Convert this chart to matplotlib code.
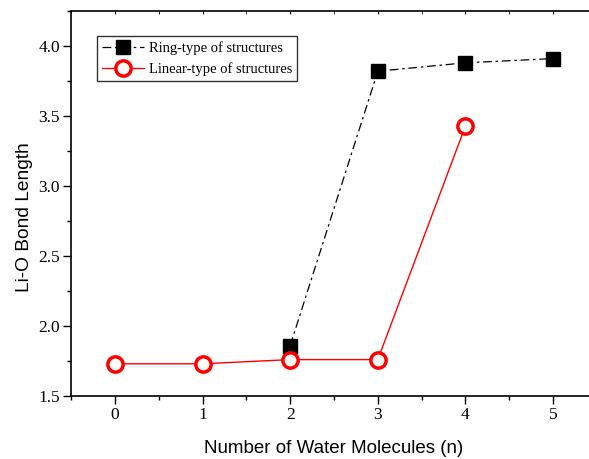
import matplotlib.pyplot as plt
from matplotlib.ticker import MultipleLocator

# Li-O bond length vs number of water molecules
n_ring = [2, 3, 4, 5]
ring_len = [1.86, 3.82, 3.88, 3.91]

n_linear = [0, 1, 2, 3, 4]
linear_len = [1.73, 1.73, 1.76, 1.76, 3.43]

fig = plt.figure(figsize=(5.89, 4.59), dpi=100)
ax = fig.add_axes([71 / 589, 63 / 459, 526 / 589, 385 / 459])

ax.plot(n_ring, ring_len, color="black", linestyle=(0, (7, 3, 2, 3)), linewidth=0.9,
        marker="s", markersize=10, markerfacecolor="black", markeredgecolor="black",
        label="Ring-type of structures")
ax.plot(n_linear, linear_len, color="red", linestyle="-", linewidth=1.0,
        marker="o", markersize=11, markerfacecolor="white", markeredgecolor="red",
        markeredgewidth=2.5, label="Linear-type of structures")

ax.set_xlim(-0.5, 5.5)
ax.set_ylim(1.5, 4.25)
ax.xaxis.set_major_locator(MultipleLocator(1))
ax.xaxis.set_minor_locator(MultipleLocator(0.5))
ax.yaxis.set_major_locator(MultipleLocator(0.5))
ax.yaxis.set_minor_locator(MultipleLocator(0.25))
ax.yaxis.set_major_formatter(plt.FormatStrFormatter("%.1f"))

for side in ["left", "bottom", "top", "right"]:
    ax.spines[side].set_linewidth(1.2)

ax.tick_params(which="both", direction="out", width=1.0, top=False, right=False)
ax.tick_params(which="major", length=5.5, pad=2.5)
ax.tick_params(which="minor", length=3)
for lab in ax.get_xticklabels() + ax.get_yticklabels():
    lab.set_fontfamily("Liberation Serif")
    lab.set_fontsize(12.5)

# small inward ticks on the top frame
top = ax.secondary_xaxis("top")
top.xaxis.set_major_locator(MultipleLocator(1))
top.xaxis.set_minor_locator(MultipleLocator(0.5))
top.tick_params(which="both", direction="in", length=2, labeltop=False)
top.spines["top"].set_visible(False)

ax.set_xlabel("Number of Water Molecules (n)", fontfamily="Liberation Sans", fontsize=13.5, labelpad=12)
ax.set_ylabel("Li-O Bond Length", fontfamily="Liberation Sans", fontsize=13.8)
ax.yaxis.set_label_coords(-0.072, 0.465)

leg = ax.legend(loc="upper left", bbox_to_anchor=(26 / 526, 1 - 25 / 385),
                prop={"family": "Liberation Serif", "size": 10.5},
                frameon=True, fancybox=False, edgecolor="black", handlelength=2.85,
                borderpad=0.35, labelspacing=0.52, handletextpad=0.34, borderaxespad=0)
leg.get_frame().set_linewidth(1.0)

fig.savefig("out.png", dpi=100)
